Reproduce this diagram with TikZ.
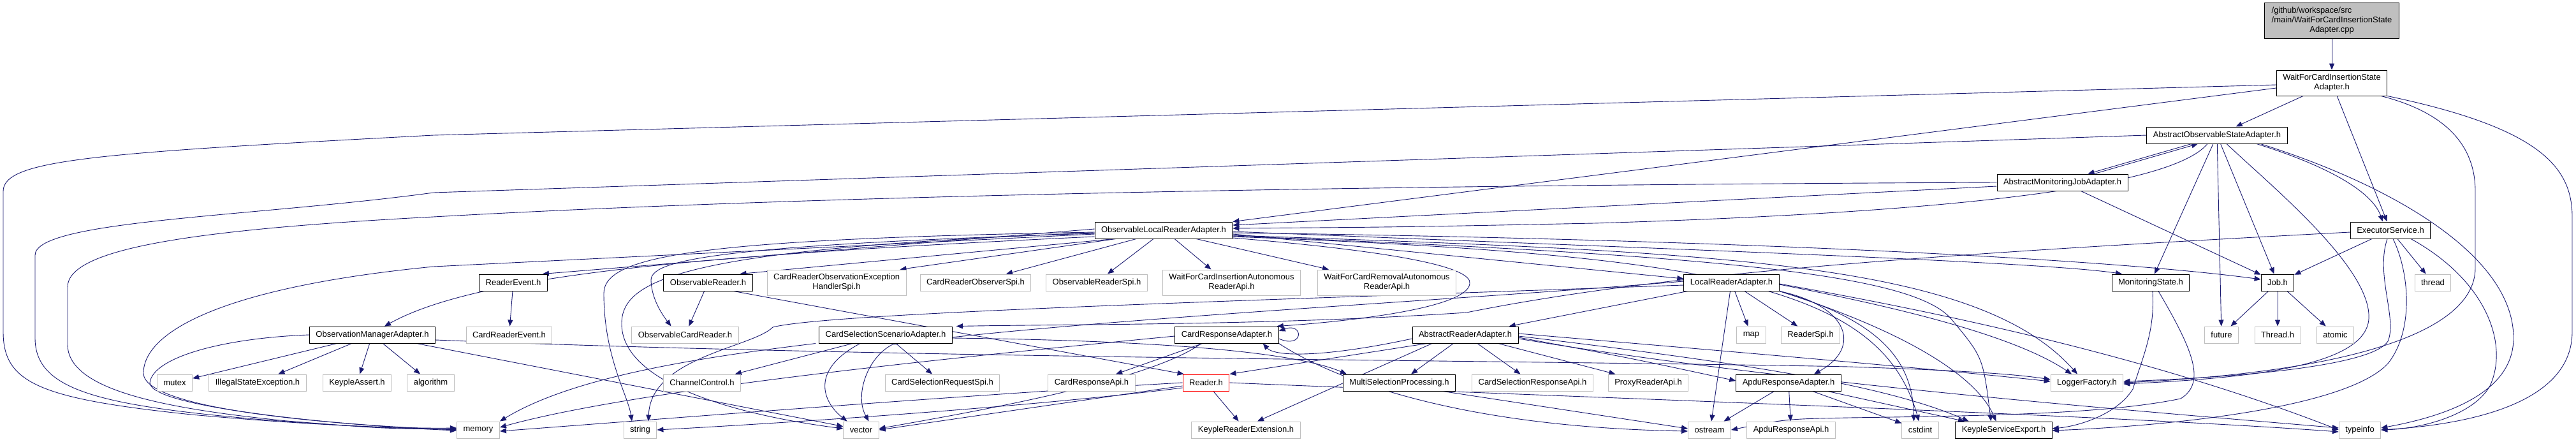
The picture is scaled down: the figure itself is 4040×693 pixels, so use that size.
\documentclass[tikz,border=0pt]{standalone}
\usepackage{fontspec}
\setmainfont{Liberation Sans}
\usetikzlibrary{arrows.meta}
\usetikzlibrary{positioning}

\definecolor{edgeblue}{HTML}{191970}
\definecolor{extgray}{HTML}{BFBFBF}

\pgfdeclarelayer{bg}
\pgfsetlayers{bg,main}

\tikzset{
  hdr/.style={draw=black, line width=1pt, fill=white, inner xsep=10pt, inner ysep=0pt,
    minimum height=26pt, font=\fontsize{13}{15}\selectfont, align=center},
  syshdr/.style={hdr, draw=extgray},
  trunchdr/.style={hdr, draw=red},
  roothdr/.style={hdr, fill=extgray},
  twoline/.style={minimum height=40pt},
  dep/.style={draw=edgeblue, line width=0.9pt, -{Triangle[length=10pt,width=8pt]}},
}

\begin{document}
\begin{tikzpicture}[x=1pt,y=-1pt]
    \useasboundingbox (0,0) rectangle (4040,693);

    % top of the graph
    \node[roothdr, minimum width=211pt, minimum height=56pt] (src) at (3657,33)
      {\begin{tabular}{@{}l@{}}/github/workspace/src\\/main/WaitForCardInsertionState\\\multicolumn{1}{@{}c@{}}{Adapter.cpp}\end{tabular}};
    \node[hdr, twoline] (wfcisa) at (3657,130) {WaitForCardInsertionState\\Adapter.h};
    \node[hdr] (aosa) at (3477,212) {AbstractObservableStateAdapter.h};
    \node[hdr] (amja) at (3234.5,286) {AbstractMonitoringJobAdapter.h};
    \node[hdr] (exec) at (3749,361) {ExecutorService.h};
    \node[hdr] (olra) at (1825,361) {ObservableLocalReaderAdapter.h};

    % row under the reader adapter
    \node[hdr] (readerevent) at (805,443) {ReaderEvent.h};
    \node[hdr] (obsreader) at (1110.5,443) {ObservableReader.h};
    \node[syshdr, twoline] (croehs) at (1312,443) {CardReaderObservationException\\HandlerSpi.h};
    \node[syshdr] (cros) at (1530,443) {CardReaderObserverSpi.h};
    \node[syshdr] (orspi) at (1720,443) {ObservableReaderSpi.h};
    \node[syshdr, twoline] (wfciara) at (1931.5,443) {WaitForCardInsertionAutonomous\\ReaderApi.h};
    \node[syshdr, twoline] (wfcrara) at (2175,443) {WaitForCardRemovalAutonomous\\ReaderApi.h};
    \node[hdr] (lra) at (2715.5,443) {LocalReaderAdapter.h};
    \node[hdr] (monstate) at (3373,443) {MonitoringState.h};
    \node[hdr] (job) at (3572,443) {Job.h};
    \node[syshdr] (thread) at (3815.5,443) {thread};

    % middle row
    \node[hdr] (oma) at (584,525) {ObservationManagerAdapter.h};
    \node[syshdr] (cardreaderevent) at (798.5,525) {CardReaderEvent.h};
    \node[syshdr] (obscardreader) at (1074.5,525) {ObservableCardReader.h};
    \node[hdr] (cssa) at (1389,525) {CardSelectionScenarioAdapter.h};
    \node[hdr] (cra) at (1924,525) {CardResponseAdapter.h};
    \node[hdr] (ara) at (2298,525) {AbstractReaderAdapter.h};
    \node[syshdr] (map) at (2746.5,525) {map};
    \node[syshdr] (readerspi) at (2839.6,525) {ReaderSpi.h};
    \node[syshdr] (future) at (3484,525) {future};
    \node[syshdr] (threadh) at (3572,525) {Thread.h};
    \node[syshdr] (atomic) at (3662.5,525) {atomic};

    % fourth row
    \node[syshdr] (mutex) at (274,600) {mutex};
    \node[syshdr] (ise) at (404,600) {IllegalStateException.h};
    \node[syshdr] (kassert) at (560,600) {KeypleAssert.h};
    \node[syshdr] (algorithm) at (675.5,600) {algorithm};
    \node[syshdr] (chanctrl) at (1101,600) {ChannelControl.h};
    \node[syshdr] (csrspi) at (1478,600) {CardSelectionRequestSpi.h};
    \node[syshdr] (crapi) at (1712,600) {CardResponseApi.h};
    \node[trunchdr] (readerh) at (1891.5,600) {Reader.h};
    \node[hdr] (msp) at (2194.5,600) {MultiSelectionProcessing.h};
    \node[syshdr] (csrapi) at (2403.5,600) {CardSelectionResponseApi.h};
    \node[syshdr] (proxy) at (2585,600) {ProxyReaderApi.h};
    \node[hdr] (apduadapter) at (2805,600) {ApduResponseAdapter.h};
    \node[syshdr] (logger) at (3273,600) {LoggerFactory.h};

    % bottom row
    \node[syshdr] (memory) at (750,674) {memory};
    \node[syshdr] (string) at (1004,674) {string};
    \node[syshdr] (vector) at (1350.5,674) {vector};
    \node[syshdr] (kre) at (1954,674) {KeypleReaderExtension.h};
    \node[syshdr] (ostream) at (2681,674) {ostream};
    \node[syshdr] (apduapi) at (2809,674) {ApduResponseApi.h};
    \node[syshdr] (cstdint) at (3011.5,674) {cstdint};
    \node[hdr] (kse) at (3142.5,674) {KeypleServiceExport.h};
    \node[syshdr] (typeinfo) at (3701,674) {typeinfo};

    \begin{pgfonlayer}{bg}
    % from the source file and its header
    \draw[dep] (src) -- (wfcisa);
    \draw[dep] (wfcisa) -- (aosa);
    \draw[dep] (wfcisa) -- (exec);
    \draw[dep] ([yshift=-8pt]wfcisa.west) -- (olra.north east);
    \draw[dep] ([yshift=-3pt]wfcisa.west) -- (680,212) .. controls (150,240) and (5,250) .. (5,300) -- (5,520)
      .. controls (5,600) and (60,625) .. (300,650) .. controls (500,668) and (640,672) .. ([yshift=3pt]memory.west);
    \draw[dep] ([xshift=-10pt]wfcisa.south east) .. controls (3850,180) and (3882,240) .. (3882,300) -- (3882,420)
      .. controls (3882,530) and (3650,585) .. (logger.east);
    \draw[dep] (wfcisa.south east) .. controls (3980,200) and (4034,260) .. (4034,340) -- (4034,520)
      .. controls (4034,630) and (3880,665) .. (typeinfo.east);

    % abstract state adapters
    \draw[dep] ([xshift=-40pt]aosa.south) -- ([xshift=40pt]amja.north);
    \draw[dep] ([xshift=50pt]amja.north) -- ([xshift=-30pt]aosa.south);
    \draw[dep] ([xshift=-15pt]aosa.south) .. controls (3400,300) and (3000,335) .. (2500,350) .. controls (2200,356) .. ([yshift=3pt]olra.east);
    \draw[dep] (aosa) -- (monstate);
    \draw[dep] (aosa) -- (future);
    \draw[dep] (aosa) -- (job);
    \draw[dep] ([xshift=15pt]aosa.south) .. controls (3560,290) and (3720,420) .. (3715,500)
      .. controls (3710,570) and (3550,592) .. ([yshift=-2pt]logger.east);
    \draw[dep] ([xshift=62pt]aosa.south) .. controls (3650,260) and (3720,300) .. ([xshift=-12pt]exec.north);
    \draw[dep] ([xshift=68pt]aosa.south) .. controls (3750,290) and (3942,400) .. (3942,530)
      .. controls (3942,610) and (3850,650) .. ([yshift=3pt]typeinfo.east);
    \draw[dep] (aosa.west) -- (680,302) .. controls (400,340) and (55,345) .. (55,400) -- (55,530)
      .. controls (55,610) and (150,635) .. (400,657) .. controls (560,670) and (650,673) .. ([yshift=2pt]memory.west);
    \draw[dep] ([yshift=-6pt]amja.west) -- ([yshift=8pt]olra.east);
    \draw[dep] (amja) -- (job);
    \draw[dep] (amja.west) .. controls (2200,290) and (1300,305) .. (680,340) .. controls (300,360) and (106,390) .. (106,450) -- (106,540)
      .. controls (106,610) and (250,640) .. (450,660) .. controls (600,672) .. ([yshift=1pt]memory.west);

    % executor
    \draw[dep] (exec) -- (job);
    \draw[dep] (exec) -- (thread);
    \draw[dep] ([xshift=-5pt]exec.south) .. controls (3725,430) and (3760,500) .. (3745,535)
      .. controls (3720,575) and (3500,592) .. ([yshift=2pt]logger.east);
    \draw[dep] ([xshift=4pt]exec.south) .. controls (3780,430) and (3785,520) .. (3745,570)
      .. controls (3680,640) and (3400,668) .. ([yshift=-1pt]kse.east);
    \draw[dep] ([xshift=32pt]exec.south) .. controls (3900,440) and (3935,540) .. (3905,605)
      .. controls (3880,650) and (3800,672) .. (typeinfo.east);
    \draw[dep] ([yshift=-3pt]exec.west) .. controls (3000,400) and (2600,430) .. (2300,490)
      .. controls (2000,510) and (1700,508) .. ([xshift=6pt]cssa.north east);

    % observable local reader adapter
    \draw[dep] ([yshift=2pt]olra.west) -- ([xshift=-8pt]readerevent.north east);
    \draw[dep] ([xshift=-77pt]olra.south) -- ([xshift=50pt]obsreader.north);
    \draw[dep] ([xshift=-75pt]olra.south) -- ([xshift=-10pt]croehs.north east);
    \draw[dep] ([xshift=-43pt]olra.south) -- ([xshift=48pt]cros.north);
    \draw[dep] ([xshift=-16pt]olra.south) -- ([xshift=17pt]orspi.north);
    \draw[dep] ([xshift=17pt]olra.south) -- ([xshift=-32pt]wfciara.north);
    \draw[dep] ([xshift=51pt]olra.south) -- ([xshift=-91pt]wfcrara.north);
    \draw[dep] ([yshift=-6pt]olra.east) -- ([yshift=6pt]lra.west);
    \draw[dep] ([yshift=-2pt]olra.east) .. controls (2600,390) and (3200,410) .. ([xshift=-45pt]monstate.north);
    \draw[dep] ([yshift=-4pt]olra.east) .. controls (2700,375) and (3300,405) .. ([yshift=5pt]job.west);
    \draw[dep] ([yshift=-8pt]olra.east) .. controls (2700,395) and (3100,410) .. ([xshift=-15pt]logger.north);
    \draw[dep] ([yshift=-9pt]olra.east) .. controls (2700,400) and (3000,430) .. (3060,500) .. controls (3110,560) .. ([xshift=-20pt]kse.north);
    \draw[dep] ([yshift=-10pt]olra.east) .. controls (2700,400) and (2950,450) .. ([xshift=-2pt]cstdint.north);
    \draw[dep] ([yshift=-12pt]olra.east) .. controls (2200,395) and (2310,420) .. (2305,445)
      .. controls (2300,485) and (2100,505) .. ([xshift=-3pt]cra.north east);
    \draw[dep] ([yshift=-10pt]olra.west) .. controls (1100,400) and (750,430) .. ([xshift=19pt]oma.north);
    \draw[dep] ([yshift=-3pt]olra.west) .. controls (1100,375) and (947,400) .. (947,460)
      .. controls (947,560) and (985,620) .. ([xshift=-13pt]string.north);
    \draw[dep] ([yshift=-4pt]olra.west) .. controls (1060,390) and (973,440) .. (975,510)
      .. controls (978,600) and (1150,650) .. ([yshift=2pt]vector.west);
    \draw[dep] ([yshift=-5pt]olra.west) .. controls (1100,385) and (1020,410) .. (1021,440)
      .. controls (1022,470) and (1040,495) .. ([xshift=-22pt]obscardreader.north);
    \draw[dep] ([yshift=-6pt]olra.west) -- (680,418) .. controls (350,450) and (225,520) .. (225,585)
      .. controls (225,640) and (500,665) .. (memory.west);

    % monitoring state, job, events
    \draw[dep] ([xshift=3pt]monstate.south) .. controls (3380,520) and (3360,560) .. (3345,610)
      .. controls (3320,650) and (3260,668) .. ([yshift=2pt]kse.east);
    \draw[dep] ([xshift=12pt]monstate.south) .. controls (3440,550) and (3460,600) .. (3420,625)
      .. controls (3300,650) and (3100,652) .. (2900,655) .. controls (2800,657) .. (ostream.east);
    \draw[dep] (job) -- (future);
    \draw[dep] (job) -- (threadh);
    \draw[dep] (job) -- (atomic);
    \draw[dep] (readerevent) -- (cardreaderevent);
    \draw[dep] (obsreader) -- (obscardreader);
    \draw[dep] ([xshift=-30pt]obsreader.south east) -- ([xshift=2pt]readerh.north west);

    % observation manager
    \draw[dep] (oma) -- (mutex);
    \draw[dep] (oma) -- (ise);
    \draw[dep] (oma) -- (kassert);
    \draw[dep] (oma) -- (algorithm);
    \draw[dep] (oma) -- (vector);
    \draw[dep] (oma.west) .. controls (350,530) and (240,560) .. (235,600)
      .. controls (235,640) and (550,668) .. ([yshift=-1pt]memory.west);
    \draw[dep] ([yshift=-8pt]oma.east) .. controls (1400,562) and (2400,565) .. (2900,575)
      .. controls (3050,580) and (3150,585) .. ([yshift=5pt]logger.west);

    % local reader adapter
    \draw[dep] (lra) -- (ara);
    \draw[dep] (lra) -- (map);
    \draw[dep] (lra) -- (readerspi);
    \draw[dep] ([xshift=-2pt]lra.south) -- ([xshift=3pt]ostream.north);
    \draw[dep] (lra.south east) .. controls (2900,480) and (2920,545) .. ([xshift=40pt]apduadapter.north);
    \draw[dep] (lra.south east) .. controls (2940,500) and (3000,560) .. ([xshift=-10pt]cstdint.north);
    \draw[dep] (lra.south east) .. controls (2990,520) and (3100,590) .. ([xshift=-12pt]kse.north);
    \draw[dep] ([yshift=-3pt]lra.east) .. controls (2940,475) and (3150,520) .. ([xshift=-24pt]logger.north);
    \draw[dep] ([yshift=-2pt]lra.east) .. controls (3100,500) and (3400,570) .. (typeinfo.west);
    \draw[dep] ([yshift=2pt]lra.west) .. controls (2300,470) and (1700,500) .. (1400,540)
      .. controls (1360,560) and (1340,620) .. ([xshift=12pt]vector.north);
    \draw[dep] ([yshift=-4pt]lra.west) .. controls (2000,470) and (1300,490) .. (1212,513)
      .. controls (1180,545) and (1020,560) .. ([xshift=13pt]string.north);

    % card selection scenario and card response
    \draw[dep] (cssa) -- (csrspi);
    \draw[dep] (cssa) -- (chanctrl);
    \draw[dep] ([xshift=-5pt]cssa.south west) .. controls (1100,560) and (900,590) .. (memory.north east);
    \draw[dep] ([xshift=-40pt]cssa.south) .. controls (1270,580) and (1290,630) .. ([xshift=-22pt]vector.north);
    \draw[dep] ([yshift=-5pt]cssa.east) .. controls (1900,535) and (2050,560) .. ([xshift=6pt]msp.north west);
    \draw[dep] (cra) -- (crapi);
    \draw[dep] ([yshift=-6pt]cra.east) .. controls (2045,548) and (2045,505) .. ([yshift=6pt]cra.east);
    \draw[dep] ([yshift=-2pt]cra.west) .. controls (1500,560) and (1000,610) .. ([yshift=4pt]memory.east);
    \draw[dep] ([xshift=-40pt]cra.south) .. controls (1800,600) and (1500,650) .. ([yshift=2pt]vector.east);
    \draw[dep] (cra.south east) .. controls (2100,600) and (2300,670) .. ([yshift=-2pt]ostream.west);

    % abstract reader adapter
    \draw[dep] (ara) -- (msp);
    \draw[dep] (ara) -- (csrapi);
    \draw[dep] (ara) -- (proxy);
    \draw[dep] ([xshift=-60pt]ara.south) -- (readerh.north east);
    \draw[dep] ([xshift=-52pt]ara.south) -- ([xshift=18pt]kre.north);
    \draw[dep] ([yshift=-6pt]ara.west) .. controls (2080,560) and (2000,560) .. ([xshift=-25pt]cra.south east);
    \draw[dep] ([yshift=2pt]ara.east) .. controls (2700,550) and (3000,575) .. ([yshift=2pt]logger.west);
    \draw[dep] ([yshift=-2pt]ara.east) .. controls (2700,565) and (2950,600) .. ([xshift=-55pt]kse.north);
    \draw[dep] ([yshift=-6pt]ara.east) .. controls (2800,600) and (3300,640) .. ([yshift=3pt]typeinfo.west);
    \draw[dep] ([yshift=-4pt]ara.east) .. controls (2550,560) .. ([yshift=3pt]apduadapter.west);

    % reader and lower headers
    \draw[dep] (readerh) -- (kre);
    \draw[dep] (readerh.west) .. controls (1500,620) and (1000,660) .. ([yshift=-2pt]memory.east);
    \draw[dep] ([yshift=-5pt]readerh.west) -- (vector.east);
    \draw[dep] ([yshift=-8pt]readerh.west) .. controls (1600,640) and (1200,665) .. (string.east);
    \draw[dep] (readerh.east) .. controls (2400,620) and (3300,650) .. ([yshift=-3pt]typeinfo.west);
    \draw[dep] ([xshift=-20pt]msp.south east) -- ([yshift=2pt]ostream.west);
    \draw[dep] (apduadapter) -- (ostream);
    \draw[dep] (apduadapter) -- (apduapi);
    \draw[dep] (apduadapter) -- (cstdint);
    \draw[dep] (apduadapter) -- (kse);
    \end{pgfonlayer}
\end{tikzpicture}
\end{document}
